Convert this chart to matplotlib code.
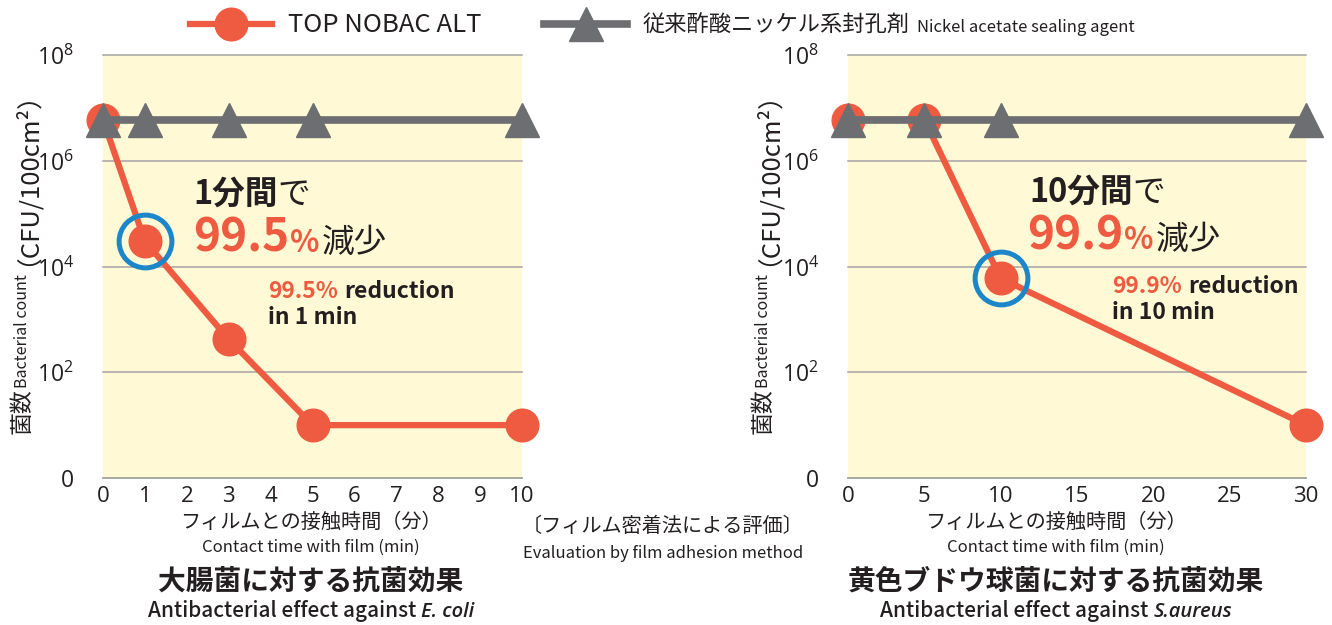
import matplotlib
matplotlib.use('Agg')
import matplotlib.pyplot as plt
from matplotlib.ticker import NullLocator

plt.rcParams['font.family'] = ['Noto Sans CJK JP', 'DejaVu Sans']
plt.rcParams['mathtext.fontset'] = 'custom'
plt.rcParams['mathtext.rm'] = 'Open Sans'

RED = '#EF5B40'
GRAY = '#6D6E71'
BLUE = '#1B87C9'
CREAM = '#FFF9D5'
GRID = '#A4A4A4'
INK = '#231F20'

# 大腸菌 (E. coli)
ecoli_time = [0, 1, 3, 5, 10]
ecoli_alt = [6e6, 3e4, 4.2e2, 10, 10]
ecoli_nickel = [6e6, 6e6, 6e6, 6e6, 6e6]
ecoli_xticks = [0, 1, 2, 3, 4, 5, 6, 7, 8, 9, 10]
ecoli_mark = 1  # index of highlighted point

# 黄色ブドウ球菌 (S. aureus)
saureus_time = [0, 5, 10, 30]
saureus_alt = [6e6, 6e6, 6e3, 10]
saureus_nickel = [6e6, 6e6, 6e6, 6e6]
saureus_xticks = [0, 5, 10, 15, 20, 25, 30]
saureus_mark = 2

y_ticks = [1, 1e2, 1e4, 1e6, 1e8]
y_ticklabels = ['$0$', '$10^{2}$', '$10^{4}$', '$10^{6}$', '$10^{8}$']

W, H = 1332, 625


def fx(px):
    return px / W


def fy(py):
    return 1 - py / H


fig = plt.figure(figsize=(W / 100, H / 100), dpi=100)
ax1 = fig.add_axes([fx(103), fy(478), 419 / W, 423 / H])
ax2 = fig.add_axes([fx(848), fy(478), 458 / W, 423 / H])


def style_axes(ax, xmax, xticks):
    ax.set_facecolor(CREAM)
    ax.set_yscale('log')
    ax.set_ylim(1, 1e8)
    ax.set_xlim(0, xmax)
    ax.set_yticks(y_ticks)
    ax.set_yticklabels(y_ticklabels)
    ax.yaxis.set_minor_locator(NullLocator())
    ax.set_xticks(xticks)
    ax.tick_params(length=0, labelcolor=INK)
    ax.tick_params(axis='y', pad=21, labelsize=16.5)
    ax.tick_params(axis='x', pad=6, labelsize=16, labelfontfamily='Open Sans')
    for s in ['left', 'right', 'top']:
        ax.spines[s].set_visible(False)
    ax.spines['bottom'].set_color(GRID)
    ax.spines['bottom'].set_linewidth(1.1)
    ax.grid(axis='y', color=GRID, lw=1.1)
    ax.set_axisbelow(True)
    for gl in ax.yaxis.get_gridlines():
        gl.set_clip_on(False)


def draw_panel(ax, t, alt, nickel, mark):
    ax.plot(t, alt, color=RED, lw=4.5, marker='o', ms=23.5, clip_on=False,
            zorder=3, label='TOP NOBAC ALT')
    ax.plot(t, nickel, color=GRAY, lw=5.5, marker='^', ms=25, clip_on=False,
            zorder=4, label='従来酢酸ニッケル系封孔剤')
    ax.plot([t[mark]], [alt[mark]], ls='none', marker='o', ms=38,
            mfc='none', mec=BLUE, mew=3.6, clip_on=False, zorder=5)


style_axes(ax1, 10, ecoli_xticks)
style_axes(ax2, 30, saureus_xticks)
draw_panel(ax1, ecoli_time, ecoli_alt, ecoli_nickel, ecoli_mark)
draw_panel(ax2, saureus_time, saureus_alt, saureus_nickel, saureus_mark)

renderer = fig.canvas.get_renderer()


def text_row(x_px, base_px, parts, align='left'):
    items = []
    for s, gap, kw in parts:
        t = fig.text(0, fy(base_px), s, ha='left', va='baseline', **kw)
        w = t.get_window_extent(renderer).width
        items.append((t, gap, w))
    total = sum(g + w for _, g, w in items)
    x = x_px - total / 2 if align == 'center' else x_px
    for t, g, w in items:
        x += g
        t.set_x(fx(x))
        x += w


# legend
handles, labels = ax1.get_legend_handles_labels()
leg = fig.legend(handles, labels, loc='center left', bbox_to_anchor=(fx(190), fy(25)),
                 ncol=2, frameon=False, fontsize=16, handlelength=3.7,
                 handletextpad=0.7, columnspacing=2.85, borderpad=0,
                 borderaxespad=0, numpoints=1)
leg.get_texts()[0].set_fontsize(18.5)
for txt in leg.get_texts():
    txt.set_color(INK)
fig.canvas.draw()
lt = leg.get_texts()[1]
bb = lt.get_window_extent(renderer)
base = lt.get_transform().transform(lt.get_position())[1]
fig.text(fx(bb.x1 + 8), base / H, 'Nickel acetate sealing agent', fontsize=12,
         color=INK, ha='left', va='baseline')

# y labels (rotated, read bottom to top)
for xc in [22, 763]:
    for s, y0, size, dx in [('菌数', 434, 16.5, 0),
                            ('Bacterial count', 388, 11.5, 1),
                            ('（CFU/100cm²）', 266, 18.5, -8)]:
        fig.text(fx(xc + dx), fy(y0), s, rotation=90, ha='center', va='bottom',
                 fontsize=size, color=INK)

# callouts
big = dict(fontsize=33, fontweight='bold', color=RED)
pct = dict(fontsize=22, fontweight='bold', color=RED)
jp_b = dict(fontsize=23.5, fontweight='bold', color=INK)
jp_r = dict(fontsize=23.5, color=INK)
en_r = dict(fontsize=16.5, fontweight='bold', color=RED)
en_k = dict(fontsize=16.5, fontweight='bold', color=INK)

text_row(193, 204, [('1分間', 0, jp_b), ('で', 0, jp_r)])
text_row(193, 252, [('99.5', 0, big), ('%', 1, pct), ('減少', 2, jp_r)])
text_row(268, 298, [('99.5%', 0, en_r), ('reduction', 6, en_k)])
text_row(268, 324, [('in 1 min', 0, en_k)])

text_row(1029, 202, [('10分間', 0, jp_b), ('で', 0, jp_r)])
text_row(1027, 249, [('99.9', 0, big), ('%', 1, pct), ('減少', 2, jp_r)])
text_row(1112, 293, [('99.9%', 0, en_r), ('reduction', 6, en_k)])
text_row(1112, 319, [('in 10 min', 0, en_k)])

# bottom captions
for cx, title, en, sp in [(311, '大腸菌に対する抗菌効果', 'Antibacterial effect against', 'E. coli'),
                          (1056, '黄色ブドウ球菌に対する抗菌効果', 'Antibacterial effect against', 'S.aureus')]:
    fig.text(fx(cx), fy(522), 'フィルムとの接触時間（分）', ha='center', va='center',
             fontsize=14.5, color=INK)
    fig.text(fx(cx), fy(547), 'Contact time with film (min)', ha='center', va='center',
             fontsize=12, color=INK)
    fig.text(fx(cx), fy(582), title, ha='center', va='center', fontsize=20,
             fontweight='bold', color=INK)
    text_row(cx, 617, [(en, 0, dict(fontsize=15, fontweight='medium', color=INK)),
                       (sp, 5, dict(fontsize=14.5, fontweight='semibold', style='italic',
                                    family=['Open Sans', 'DejaVu Sans'], color=INK))],
             align='center')

fig.text(fx(663), fy(527), '〔フィルム密着法による評価〕', ha='center', va='center',
         fontsize=14.5, color=INK)
fig.text(fx(663), fy(553), 'Evaluation by film adhesion method', ha='center', va='center',
         fontsize=12, color=INK)

fig.savefig('out.png', dpi=100, facecolor='white')
